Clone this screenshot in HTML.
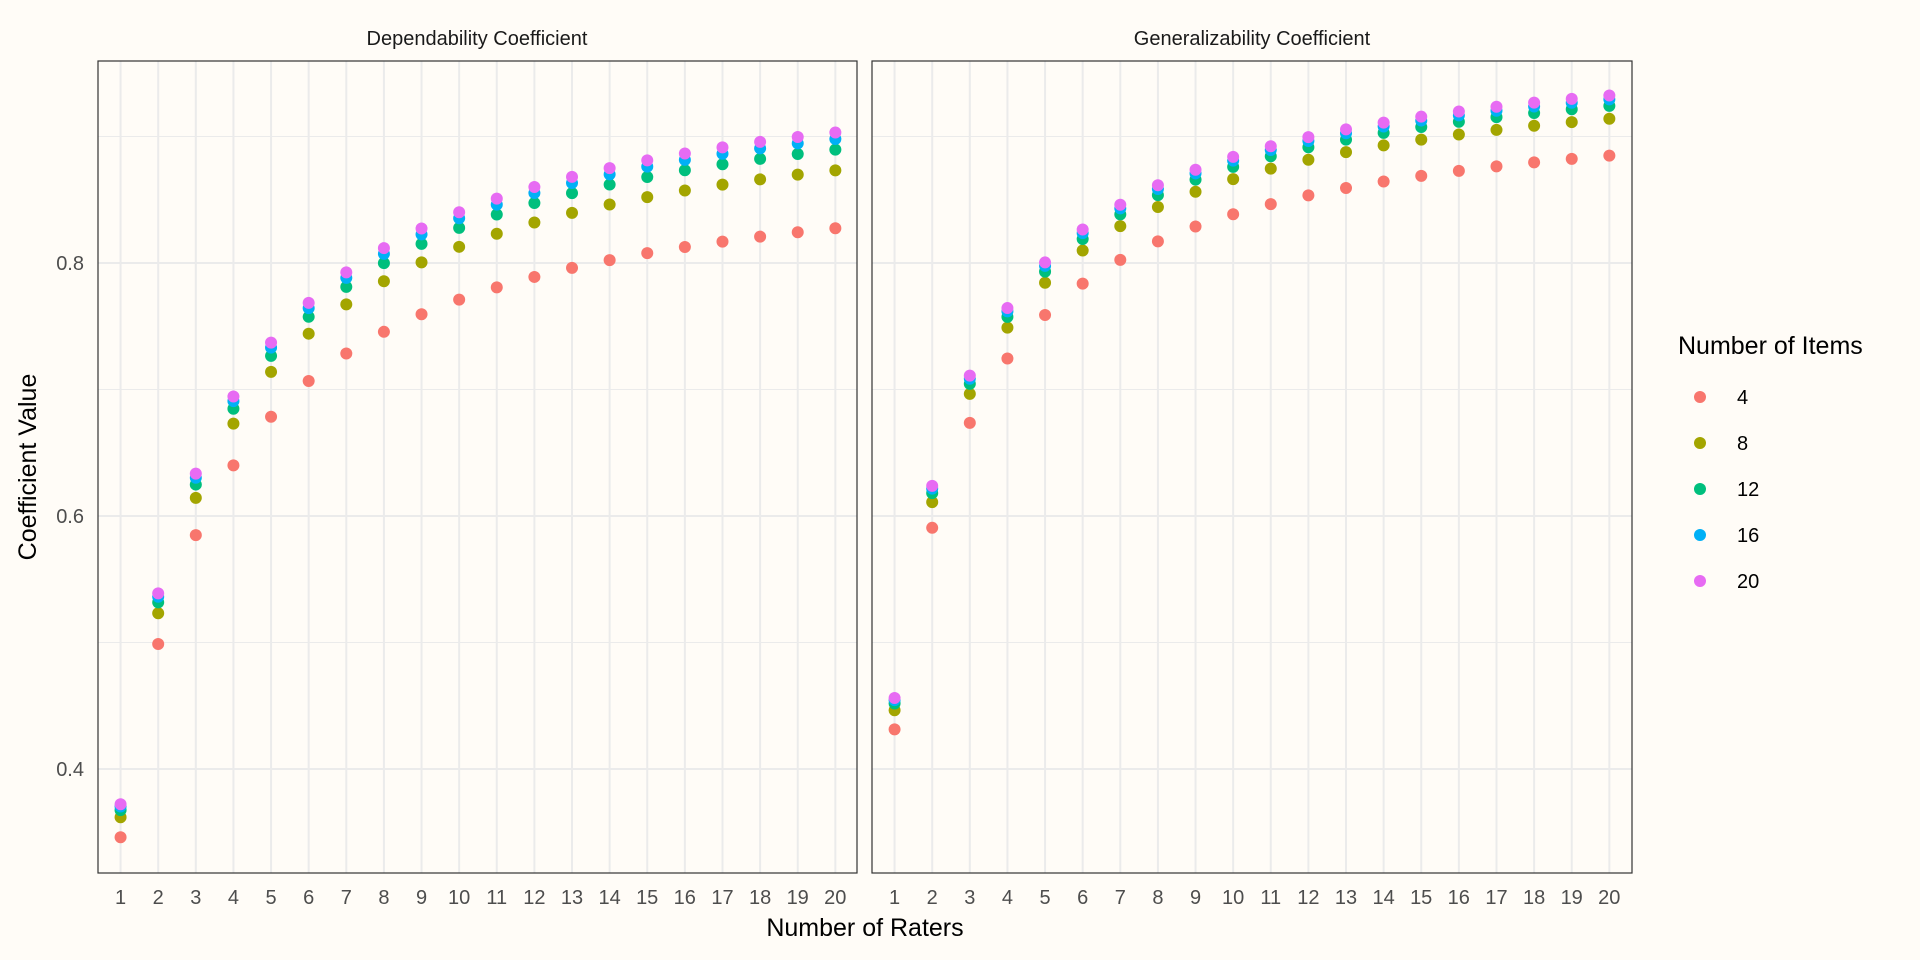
<!DOCTYPE html>
<html><head><meta charset="utf-8"><style>
html,body{margin:0;padding:0;background:#FFFCF7;}
svg{display:block;font-family:"Liberation Sans",sans-serif;}
</style></head><body>
<svg id="s" width="1920" height="960" viewBox="0 0 1920 960" xmlns="http://www.w3.org/2000/svg">
<rect width="1920" height="960" fill="#FFFCF7"/>
<g id="grid"></g>
<g id="pts"></g>
<rect x="98" y="61" width="759" height="812" fill="none" stroke="#333" stroke-width="1.2"/>
<rect x="872" y="61" width="760" height="812" fill="none" stroke="#333" stroke-width="1.2"/>
<text x="477" y="45" font-size="20" fill="#1A1A1A" text-anchor="middle">Dependability Coefficient</text>
<text x="1252" y="45" font-size="20" fill="#1A1A1A" text-anchor="middle">Generalizability Coefficient</text>
<g font-size="20" fill="#4D4D4D" text-anchor="end">
<text x="84" y="270">0.8</text>
<text x="84" y="523">0.6</text>
<text x="84" y="776">0.4</text>
</g>
<g id="xl" font-size="20" fill="#4D4D4D" text-anchor="middle">
<text x="120.6" y="904">1</text><text x="158.2" y="904">2</text><text x="195.8" y="904">3</text><text x="233.4" y="904">4</text><text x="271.1" y="904">5</text><text x="308.7" y="904">6</text><text x="346.3" y="904">7</text><text x="383.9" y="904">8</text><text x="421.5" y="904">9</text><text x="459.1" y="904">10</text><text x="496.8" y="904">11</text><text x="534.4" y="904">12</text><text x="572.0" y="904">13</text><text x="609.6" y="904">14</text><text x="647.2" y="904">15</text><text x="684.8" y="904">16</text><text x="722.5" y="904">17</text><text x="760.1" y="904">18</text><text x="797.7" y="904">19</text><text x="835.3" y="904">20</text>
<text x="894.6" y="904">1</text><text x="932.2" y="904">2</text><text x="969.8" y="904">3</text><text x="1007.4" y="904">4</text><text x="1045.1" y="904">5</text><text x="1082.7" y="904">6</text><text x="1120.3" y="904">7</text><text x="1157.9" y="904">8</text><text x="1195.5" y="904">9</text><text x="1233.1" y="904">10</text><text x="1270.8" y="904">11</text><text x="1308.4" y="904">12</text><text x="1346.0" y="904">13</text><text x="1383.6" y="904">14</text><text x="1421.2" y="904">15</text><text x="1458.8" y="904">16</text><text x="1496.5" y="904">17</text><text x="1534.1" y="904">18</text><text x="1571.7" y="904">19</text><text x="1609.3" y="904">20</text>
</g>
<text x="865" y="936" font-size="25" fill="#000" text-anchor="middle">Number of Raters</text>
<text x="0" y="0" font-size="25" fill="#000" text-anchor="middle" transform="translate(36,467) rotate(-90)">Coefficient Value</text>
<text x="1678" y="354" font-size="25" fill="#000">Number of Items</text>
<g font-size="20" fill="#000">
<circle cx="1700" cy="397" r="6" fill="#F8766D"/><text x="1737" y="404">4</text>
<circle cx="1700" cy="443" r="6" fill="#A3A500"/><text x="1737" y="450">8</text>
<circle cx="1700" cy="489" r="6" fill="#00BF7D"/><text x="1737" y="496">12</text>
<circle cx="1700" cy="535" r="6" fill="#00B0F6"/><text x="1737" y="542">16</text>
<circle cx="1700" cy="581" r="6" fill="#E76BF3"/><text x="1737" y="588">20</text>
</g>
</svg>
<script>
(function(){
var NS="http://www.w3.org/2000/svg";
var grid=document.getElementById("grid"),pts=document.getElementById("pts");
function Y(v){return 263+(0.8-v)*1265;}
function line(x1,y1,x2,y2,w){var l=document.createElementNS(NS,"line");l.setAttribute("x1",x1);l.setAttribute("y1",y1);l.setAttribute("x2",x2);l.setAttribute("y2",y2);l.setAttribute("stroke","#EBEBEB");l.setAttribute("stroke-width",w);grid.appendChild(l);}
var panels=[[98,857],[872,1632]];
var sp=37.62;
panels.forEach(function(p){
 [0.5,0.7,0.9].forEach(function(v){line(p[0],Y(v),p[1],Y(v),1);});
 [0.4,0.6,0.8].forEach(function(v){line(p[0],Y(v),p[1],Y(v),2);});
 for(var k=1;k<=20;k++){var x=p[0]+sp*(k-0.4);line(x,61,x,873,2);}
});
var cols=["#F8766D","#A3A500","#00BF7D","#00B0F6","#E76BF3"],ns=[4,8,12,16,20];
var models=[[0.48,1.637,0.53],[0.27,1.161,0.36]];
for(var pi=0;pi<2;pi++){var m=models[pi],p=panels[pi];
 for(var j=0;j<5;j++){var ni=ns[j];
  for(var nr=1;nr<=20;nr++){
   var v=1/(1+m[0]/ni+m[1]/nr+m[2]/(ni*nr));
   var c=document.createElementNS(NS,"circle");
   c.setAttribute("cx",p[0]+sp*(nr-0.4));c.setAttribute("cy",Y(v));c.setAttribute("r",6);c.setAttribute("fill",cols[j]);
   pts.appendChild(c);
  }}}
})();
</script>
</body></html>
